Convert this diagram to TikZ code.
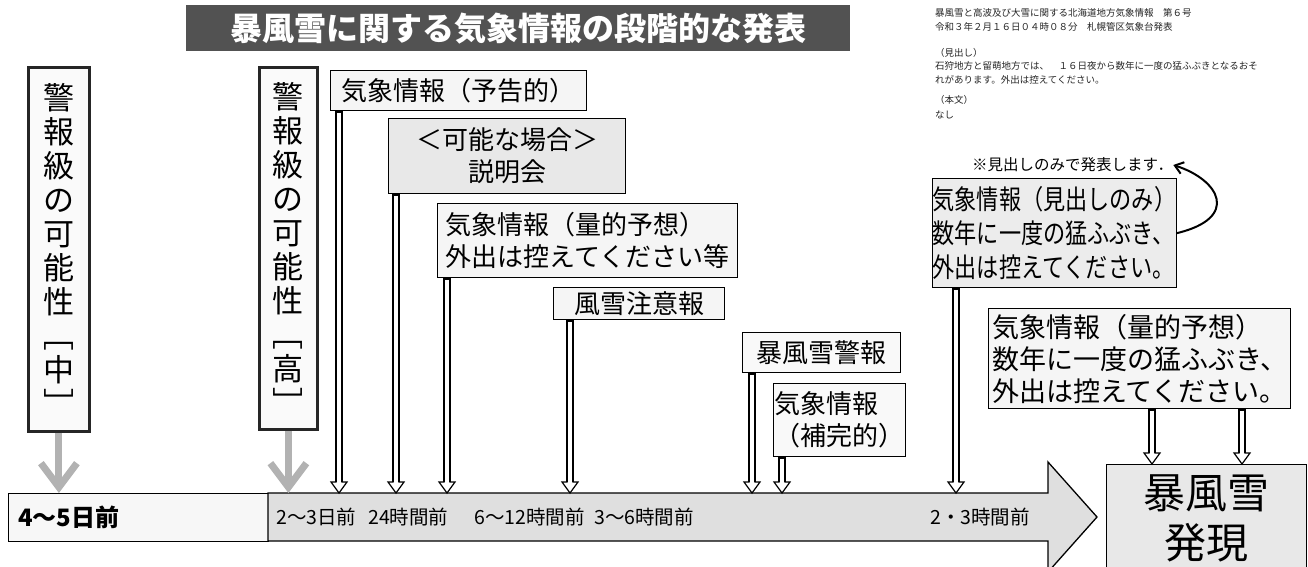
\documentclass[tikz,border=0pt]{standalone}
\usepackage{fontspec}
\newfontfamily\jp{Noto Sans CJK JP}
\newfontfamily\jpn{Noto Sans CJK JP}[FakeStretch=0.82]
\usetikzlibrary{arrows.meta,calc}
\tikzset{
  infobox/.style={draw=black, line width=1.3pt, fill=gray!10, inner sep=0pt, anchor=north west,
    font=\jp\fontsize{26}{32}\selectfont, align=center},
  vbox/.style={draw=black!85, line width=2.8pt, fill=gray!4, anchor=north west, inner sep=0pt,
    align=center, font=\jp\fontsize{31}{34}\selectfont},
  tllabel/.style={anchor=west, inner sep=0pt, font=\jp\fontsize{19.5}{22}\selectfont},
  grayarr/.style={draw=gray!60, line width=7pt, -{Straight Barb[length=24pt, width=36pt]}},
  smalltext/.style={anchor=west, inner sep=0pt, text=black!85, font=\jp\fontsize{9.5}{11}\selectfont},
}
\newcommand\hollowarrow[2]{%
  \coordinate (ha-s) at #1;
  \coordinate (ha-e) at #2;
  \draw[line width=8pt] (ha-s) -- ($(ha-e)+(0,-11)$);
  \draw[line width=4.6pt, white] ($(ha-s)+(0,1.5)$) -- ($(ha-e)+(0,-10)$);
  \path[fill=white, draw=black, line width=1.2pt, line join=miter]
    ($(ha-e)+(-2.3,-11)$) -- ($(ha-e)+(-8,-11)$) -- (ha-e) -- ($(ha-e)+(8,-11)$) -- ($(ha-e)+(2.3,-11)$);
}
\begin{document}
\begin{tikzpicture}[x=1pt,y=-1pt]
\useasboundingbox[fill=white] (0,0) rectangle (1308,566);

% title
\node[fill=black!68, minimum width=664pt, minimum height=46pt, anchor=north west, inner sep=0pt,
  text=white, font=\jp\bfseries\fontsize{32}{36}\selectfont] (title) at (186,5) {暴風雪に関する気象情報の段階的な発表};

% small document excerpt
\node[smalltext] (s1) at (935,13) {暴風雪と高波及び大雪に関する北海道地方気象情報　第６号};
\node[smalltext] (s2) at (935,27) {令和３年２月１６日０４時０８分　札幌管区気象台発表};
\node[smalltext] (s3) at (935,53) {（見出し）};
\node[smalltext] (s4) at (935,66) {石狩地方と留萌地方では、　１６日夜から数年に一度の猛ふぶきとなるおそ};
\node[smalltext] (s5) at (935,80) {れがあります。外出は控えてください。};
\node[smalltext] (s6) at (935,100) {（本文）};
\node[smalltext] (s7) at (935,115) {なし};

% timeline
\node[draw=black, line width=1.3pt, fill=gray!6, minimum width=260pt, minimum height=48pt,
  anchor=north west, inner sep=0pt] (tl0) at (8,493) {};
\draw[fill=gray!25, line width=1.3pt] (268,493) -- (1048,493) -- (1048,462) -- (1097,517)
  -- (1048,572) -- (1048,541) -- (268,541) -- cycle;
\coordinate (tltop) at (300,493);
\node[anchor=west, inner sep=0pt, font=\jp\bfseries\fontsize{24}{26}\selectfont] (d45) at (18,517) {4～5日前};
\node[tllabel] (d23) at (276,517) {2～3日前};
\node[tllabel] (h24) at (368,517) {24時間前};
\node[tllabel] (h612) at (474,517) {6～12時間前};
\node[tllabel] (h36) at (594,517) {3～6時間前};
\node[tllabel] (h23) at (930,517) {2・3時間前};

% vertical boxes
\node[vbox, minimum width=61pt, minimum height=364pt] (V1) at (27,66)
  {警\\報\\級\\の\\可\\能\\性\\﹇\\中\\﹈};
\node[vbox, minimum width=58pt, minimum height=362pt] (V2) at (258,66)
  {警\\報\\級\\の\\可\\能\\性\\﹇\\高\\﹈};
\draw[grayarr] (V1.south) -- (V1.south |- tltop);
\draw[grayarr] (V2.south) -- (V2.south |- tltop);

% info boxes
\node[infobox, fill=gray!8, minimum width=256pt, minimum height=40pt] (B1) at (330,70) {気象情報（予告的）};
\node[infobox, fill=gray!18, minimum width=237pt, minimum height=75pt] (B2) at (388,118) {＜可能な場合＞\\説明会};
\node[infobox, fill=gray!8, minimum width=300pt, minimum height=74pt, align=left] (B3) at (437,203)
  {気象情報（量的予想）\\外出は控えてください等};
\node[infobox, fill=gray!8, minimum width=171pt, minimum height=32pt] (B4) at (553,287) {風雪注意報};
\node[infobox, fill=gray!5, minimum width=158pt, minimum height=40pt] (B5) at (742,332) {暴風雪警報};
\node[infobox, fill=gray!5, minimum width=132pt, minimum height=73pt, align=left] (B6) at (773,383)
  {気象情報\\（補完的）};
\node[infobox, fill=gray!15, minimum width=240pt, minimum height=109pt, align=left,
  font=\jpn\fontsize{27}{34}\selectfont] (B7) at (932,178)
  {気象情報（見出しのみ）\\数年に一度の猛ふぶき、\\外出は控えてください。};
\node[infobox, fill=gray!8, minimum width=302pt, minimum height=100pt, align=left,
  font=\jp\fontsize{27}{32}\selectfont] (B8) at (988,308)
  {気象情報（量的予想）\\数年に一度の猛ふぶき、\\外出は控えてください。};
\node[infobox, fill=gray!18, minimum width=200pt, minimum height=108pt,
  font=\jp\fontsize{42}{50}\selectfont] (B9) at (1106,464) {暴風雪\\発現};

% note and curved arrow
\node[anchor=west, inner sep=0pt, font=\jp\fontsize{15.5}{17}\selectfont] (note) at (972,165) {※見出しのみで発表します．};
\draw[line width=2pt, -{Straight Barb[length=8pt, width=12pt]}] (B7.east) .. controls (1240,218) and (1220,180) .. (note.east);

% double hollow arrows
\hollowarrow{(339,0 |- B1.south)}{(339,0 |- tltop)}
\hollowarrow{(396,0 |- B2.south)}{(396,0 |- tltop)}
\hollowarrow{(447,0 |- B3.south)}{(447,0 |- tltop)}
\hollowarrow{(570,0 |- B4.south)}{(570,0 |- tltop)}
\hollowarrow{(752,0 |- B5.south)}{(752,0 |- tltop)}
\hollowarrow{(782,0 |- B6.south)}{(782,0 |- tltop)}
\hollowarrow{(956,0 |- B7.south)}{(956,0 |- tltop)}
\hollowarrow{(1152,0 |- B8.south)}{(1152,0 |- B9.north)}
\hollowarrow{(1242,0 |- B8.south)}{(1242,0 |- B9.north)}
\end{tikzpicture}
\end{document}
